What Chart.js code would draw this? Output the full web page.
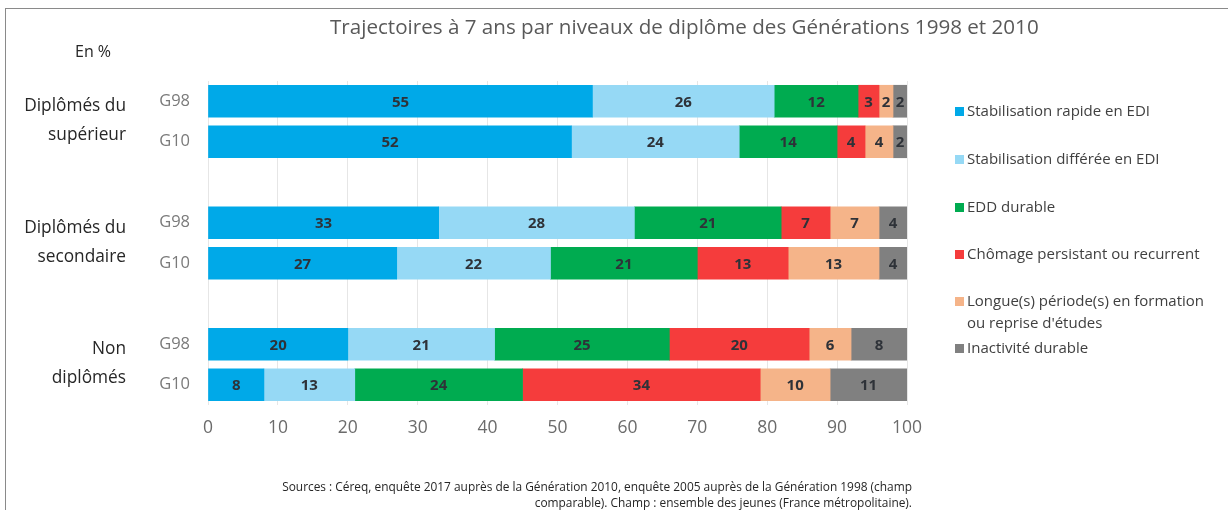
<!DOCTYPE html>
<html>
<head>
<meta charset="utf-8">
<script src="https://cdn.jsdelivr.net/npm/chart.js@4"></script>
<style>
  html, body { margin:0; padding:0; background:#fff; }
  body { width:1228px; height:510px; position:relative; overflow:hidden; font-family:"Open Sans", sans-serif; }
  #frame { position:absolute; left:5px; top:8px; width:1400px; height:700px; border:1px solid #8a8a8a; box-sizing:border-box; }
  #wrap { position:absolute; left:0; top:0; width:1228px; height:510px; }
  .t { position:absolute; white-space:nowrap; }
  #title { left:330px; top:12px; font-size:20.6px; color:#595959; }
  #unit { left:75px; top:40px; font-size:16px; color:#262626; }
  #src { right:316px; top:478px; font-size:11.9px; color:#262626; text-align:right; line-height:16px; }
  .lg { position:absolute; left:955px; font-size:15px; color:#404040; white-space:nowrap; line-height:22px; }
  .lg i { display:inline-block; width:9px; height:9px; margin-right:3px; vertical-align:0px; }
</style>
</head>
<body>
<div id="frame"></div>
<div id="wrap"><canvas id="c" width="1228" height="510"></canvas></div>
<div class="t" id="title">Trajectoires à 7 ans par niveaux de diplôme des Générations 1998 et 2010</div>
<div class="t" id="unit">En %</div>
<div class="t" id="src">Sources : Céreq, enquête 2017 auprès de la Génération 2010, enquête 2005 auprès de la Génération 1998 (champ<br>comparable). Champ : ensemble des jeunes (France métropolitaine).</div>
<div id="legend"></div>
<script>
// ---- data ----
const groups = [['Diplômés du', 'supérieur'], ['Diplômés du', 'secondaire'], ['Non', 'diplômés']];
const generations = ['G98', 'G10'];
const seriesNames = ['Stabilisation rapide en EDI', 'Stabilisation différée en EDI', 'EDD durable',
  'Chômage persistant ou recurrent', 'Longue(s) période(s) en formation\nou reprise d\'études', 'Inactivité durable'];
// values per series: [sup G98, sup G10, sec G98, sec G10, non G98, non G10]
const rapide     = [55, 52, 33, 27, 20, 8];
const differee   = [26, 24, 28, 22, 21, 13];
const eddDurable = [12, 14, 21, 21, 25, 24];
const chomage    = [3, 4, 7, 13, 20, 34];
const formation  = [2, 4, 7, 13, 6, 10];
const inactivite = [2, 2, 4, 4, 8, 11];
const xTicks = [0, 10, 20, 30, 40, 50, 60, 70, 80, 90, 100];

const colors = ['#00a9e8', '#96d9f5', '#00ab50', '#f53c3c', '#f5b489', '#808080'];
const allSeries = [rapide, differee, eddDurable, chomage, formation, inactivite];

// build category slots with blank separators between groups
const labels = [];
groups.forEach((g, gi) => { if (gi > 0) labels.push(''); generations.forEach(x => labels.push(x)); });
function expand(arr) {
  const out = [];
  for (let gi = 0; gi < groups.length; gi++) {
    if (gi > 0) out.push(null);
    for (let k = 0; k < generations.length; k++) out.push(arr[gi * generations.length + k]);
  }
  return out;
}

// legend (HTML)
const legendTops = [99, 147, 195, 242, 289, 336];
const lgEl = document.getElementById('legend');
seriesNames.forEach((n, i) => {
  const d = document.createElement('div');
  d.className = 'lg';
  d.style.top = legendTops[i] + 'px';
  const parts = n.split('\n');
  d.innerHTML = '<i style="background:' + colors[i] + '"></i>' + parts[0] +
    (parts[1] ? '<br><span style="padding-left:12px">' + parts[1] + '</span>' : '');
  lgEl.appendChild(d);
});

const valueLabels = {
  id: 'valueLabels',
  afterDatasetsDraw(chart) {
    const ctx = chart.ctx;
    ctx.save();
    ctx.font = 'bold 15px "Open Sans", sans-serif';
    ctx.fillStyle = '#2e3238';
    ctx.textAlign = 'center';
    ctx.textBaseline = 'middle';
    chart.data.datasets.forEach((ds, di) => {
      const meta = chart.getDatasetMeta(di);
      meta.data.forEach((el, i) => {
        const v = ds.data[i];
        if (v == null) return;
        const p = el.getCenterPoint();
        ctx.fillText(String(v), p.x, p.y + 1);
      });
    });
    ctx.restore();
  }
};

const groupLabels = {
  id: 'groupLabels',
  afterDraw(chart) {
    const ctx = chart.ctx, y = chart.scales.y;
    ctx.save();
    ctx.font = '17.3px "Open Sans", sans-serif';
    ctx.fillStyle = '#262626';
    ctx.textAlign = 'right';
    ctx.textBaseline = 'middle';
    groups.forEach((g, gi) => {
      const i0 = gi * (generations.length + 1);
      const c = (y.getPixelForValue(i0) + y.getPixelForValue(i0 + 1)) / 2;
      ctx.fillText(g[0], 126, c - 15);
      ctx.fillText(g[1], 126, c + 14);
    });
    ctx.restore();
  }
};

new Chart(document.getElementById('c'), {
  type: 'bar',
  data: {
    labels: labels,
    datasets: allSeries.map((s, i) => ({
      label: seriesNames[i],
      data: expand(s),
      backgroundColor: colors[i],
      borderWidth: 0,
      barThickness: 32
    }))
  },
  options: {
    indexAxis: 'y',
    responsive: false,
    animation: false,
    layout: { padding: { left: 0, right: 321, top: 81, bottom: 0 } },
    plugins: { legend: { display: false }, tooltip: { enabled: false }, title: { display: false } },
    scales: {
      x: {
        stacked: true, min: 0, max: 100,
        afterBuildTicks(s) { s.ticks = xTicks.map(v => ({ value: v })); },
        afterFit(s) { s.height = 105; },
        border: { display: false },
        grid: { color: '#e6e6e6', drawTicks: false },
        ticks: { padding: 13, color: '#6b6b6b', font: { family: 'Open Sans', size: 17.5 } }
      },
      y: {
        stacked: true,
        afterFit(s) { s.width = 208; },
        border: { display: false },
        grid: { display: false, drawTicks: false },
        ticks: { padding: 18, color: '#7a7a7a', font: { family: 'Open Sans', size: 16.5 } }
      }
    }
  },
  plugins: [valueLabels, groupLabels]
});
</script>
</body>
</html>
